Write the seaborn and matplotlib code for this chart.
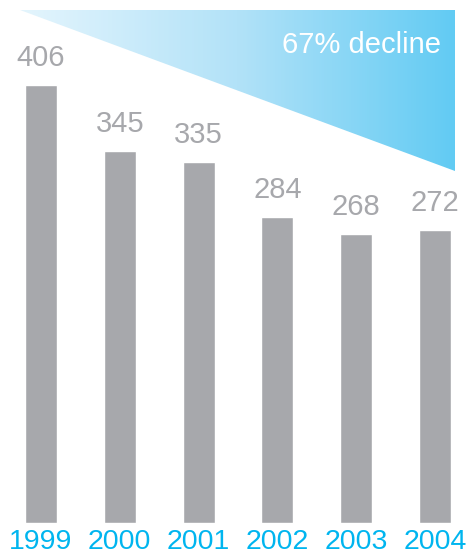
import numpy as np
import pandas as pd
import matplotlib
matplotlib.use("Agg")
import matplotlib.pyplot as plt
from matplotlib.patches import Polygon
from matplotlib.colors import LinearSegmentedColormap
import seaborn as sns

years = ["1999", "2000", "2001", "2002", "2003", "2004"]
values = [406, 345, 335, 284, 268, 272]
annotation = "67% decline"

BAR = "#a7a8ac"
YEAR = "#00b5ef"

sns.set_style("white")
plt.rcParams["font.family"] = ["Liberation Sans", "DejaVu Sans"]

W, H = 467, 556
fig = plt.figure(figsize=(W / 100, H / 100), dpi=100)
base = 33
ax = fig.add_axes([0, base / H, 1, (H - base) / H])

df = pd.DataFrame({"year": years, "value": values})
sns.barplot(data=df, x="year", y="value", color=BAR, width=32 / 78.8,
            saturation=1, ax=ax, zorder=2)

spacing = 78.8
scale = 1.079

for c in ax.containers:
    ax.bar_label(c, labels=[str(v) for v in values], padding=9,
                 color=BAR, fontsize=21)

ax.set_xlabel("")
ax.set_ylabel("")
ax.set_yticks([])
ax.tick_params(axis="x", length=0, pad=4, labelsize=20.5, labelcolor=YEAR)
for s in ax.spines.values():
    s.set_visible(False)

# gradient triangle
x0 = (20 - 41) / spacing
x1 = (455 - 41) / spacing
ytop = (H - 10 - base) / scale
ybot = (H - 171 - base) / scale
cmap = LinearSegmentedColormap.from_list("g", ["#e4f5fd", "#b2e2f8", "#62cbf3"])
grad = np.linspace(0, 1, 256).reshape(1, -1)
im = ax.imshow(grad, extent=[x0, x1, ybot, ytop], aspect="auto", cmap=cmap,
               zorder=1, interpolation="bilinear")
tri = Polygon([[x0, ytop], [x1, ytop], [x1, ybot]], closed=True,
              transform=ax.transData, facecolor="none", edgecolor="none")
ax.add_patch(tri)
im.set_clip_path(tri)
ax.set_xlim(-41 / spacing, (W - 41) / spacing)
ax.set_ylim(0, (H - base) / scale)

ax.text((441 - 41) / spacing, (H - 45 - base) / scale, annotation,
        ha="right", va="center", color="white", fontsize=21, zorder=3)

fig.savefig("out.png", dpi=100)
